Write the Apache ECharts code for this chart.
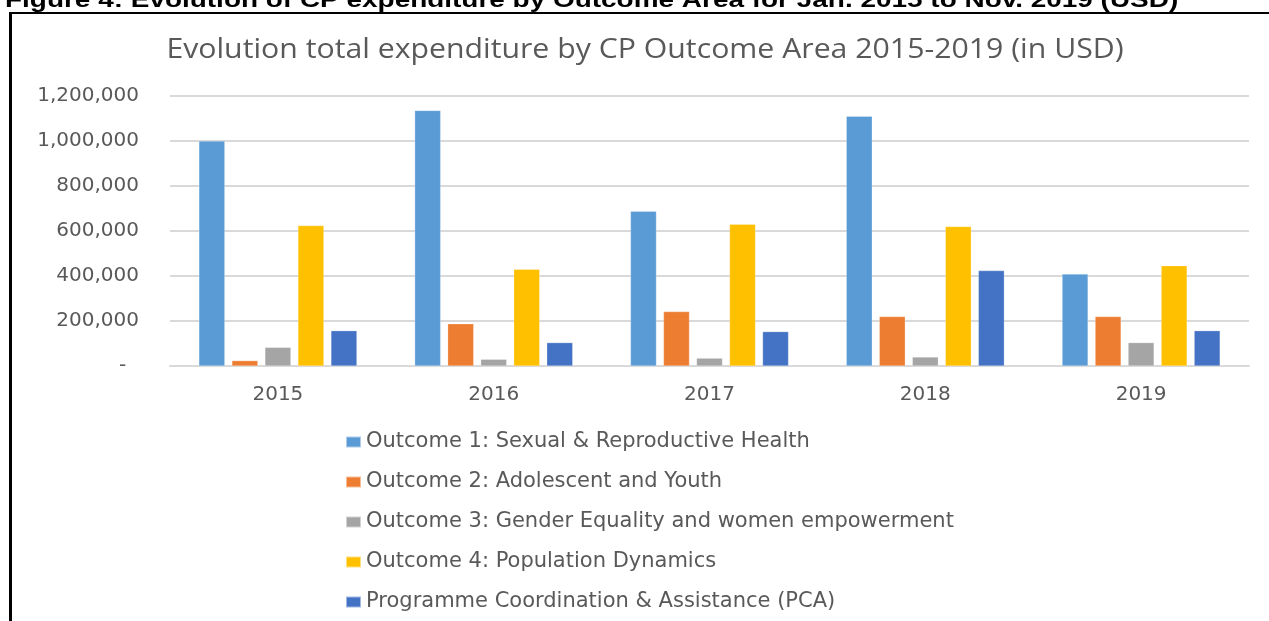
<!DOCTYPE html>
<html>
<head>
<meta charset="utf-8">
<script src="https://cdn.jsdelivr.net/npm/echarts@6/dist/echarts.min.js"></script>
<style>
html,body{margin:0;padding:0;background:#fff;}
#chart{width:1269px;height:621px;}
</style>
</head>
<body>
<div id="chart"></div>
<script>
const categories = ['2015', '2016', '2017', '2018', '2019'];
const seriesNames = [
  'Outcome 1: Sexual & Reproductive Health',
  'Outcome 2: Adolescent and Youth',
  'Outcome 3: Gender Equality and women empowerment',
  'Outcome 4: Population Dynamics',
  'Programme Coordination & Assistance (PCA)'
];
const outcome1 = [1000000, 1136000, 688000, 1110000, 409000];
const outcome2 = [24000, 188000, 242000, 220000, 220000];
const outcome3 = [83000, 30000, 35000, 40000, 104000];
const outcome4 = [624000, 430000, 630000, 620000, 446000];
const pca = [157000, 104000, 153000, 424000, 157000];
const yTicks = [0, 200000, 400000, 600000, 800000, 1000000, 1200000];
const colors = ['#5B9BD5', '#ED7D31', '#A5A5A5', '#FFC000', '#4472C4'];
const captionText = 'Figure 4: Evolution of CP expenditure by Outcome Area for Jan. 2015 to Nov. 2019 (USD)';
const titleText = 'Evolution total expenditure by CP Outcome Area 2015-2019 (in USD)';

const allValues = [outcome1, outcome2, outcome3, outcome4, pca];
const chart = echarts.init(document.getElementById('chart'), null, {renderer: 'canvas'});
const option = {
  animation: false,
  color: colors,
  graphic: [
    {type: 'text', x: 5, y: 12, scaleX: 1.27, style: {text: captionText, font: 'bold 22px "Liberation Sans", Arial', fill: '#000', verticalAlign: 'bottom'}},
    {type: 'line', shape: {x1: 9, y1: 13, x2: 1269, y2: 13}, style: {stroke: '#000', lineWidth: 2}},
    {type: 'line', shape: {x1: 10.5, y1: 12, x2: 10.5, y2: 621}, style: {stroke: '#000', lineWidth: 3}},
    {type: 'text', x: 645, y: 50, scaleX: 1.08, style: {text: titleText, font: '28px "Open Sans"', fill: '#595959', align: 'center', verticalAlign: 'middle'}}
  ],
  legend: {
    orient: 'vertical',
    left: 345,
    top: 429,
    padding: 0,
    itemWidth: 15,
    itemHeight: 11,
    itemGap: 14,
    icon: 'rect',
    data: seriesNames,
    textStyle: {fontFamily: 'DejaVu Sans', fontSize: 21, color: '#595959', lineHeight: 22, padding: [4, 0, 0, 0]}
  },
  grid: {left: 170, right: 20, top: 96, bottom: 255, containLabel: false},
  xAxis: {
    type: 'category',
    data: categories,
    axisLine: {show: true, lineStyle: {color: '#d9d9d9', width: 2}},
    axisTick: {show: false},
    axisLabel: {fontFamily: 'DejaVu Sans', fontSize: 20, color: '#595959', margin: 19}
  },
  yAxis: {
    type: 'value',
    min: 0,
    max: yTicks[yTicks.length - 1],
    interval: yTicks[1] - yTicks[0],
    axisLine: {show: false},
    axisTick: {show: false},
    splitLine: {lineStyle: {color: '#d9d9d9', width: 2}},
    axisLabel: {
      fontFamily: 'DejaVu Sans', fontSize: 20, color: '#595959', margin: 31,
      formatter: v => v === 0 ? '-  ' : v.toLocaleString('en-US')
    }
  },
  series: seriesNames.map((name, i) => ({
    name: name,
    type: 'bar',
    data: allValues[i],
    barWidth: 26,
    barGap: '27%',
    itemStyle: {color: colors[i], borderColor: 'rgba(255,255,255,0.5)', borderWidth: 0.5}
  }))
};
chart.setOption(option);
</script>
</body>
</html>
